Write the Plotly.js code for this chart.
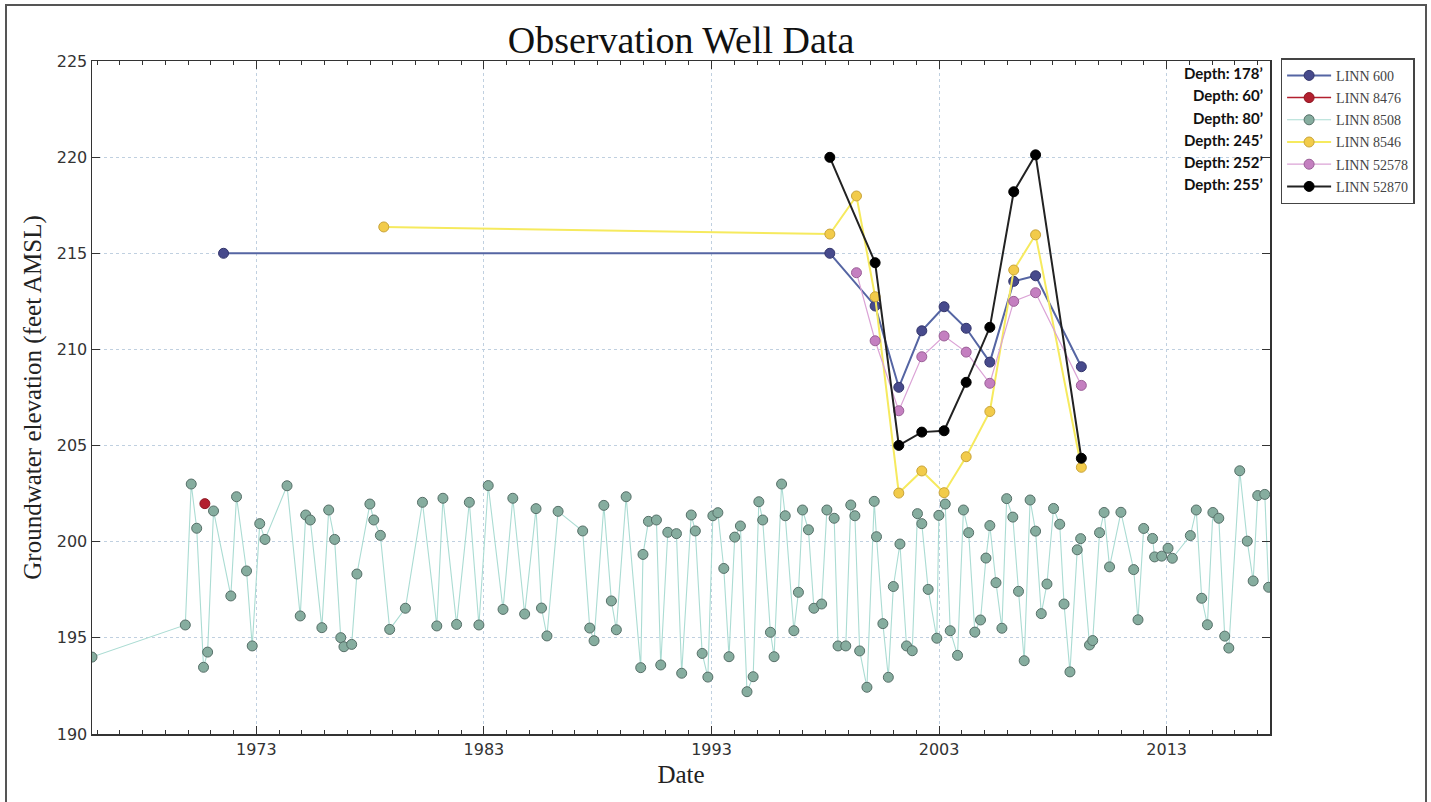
<!DOCTYPE html>
<html>
<head>
<meta charset="utf-8">
<script src="https://cdn.plot.ly/plotly-3.0.1.min.js"></script>
<style>
  html, body { margin: 0; padding: 0; background: #fff; }
  #wrap { position: relative; width: 1431px; height: 802px; overflow: hidden; }
  #chart { position: absolute; left: 0; top: 0; width: 1431px; height: 802px; }
  #frame { position: absolute; left: 5px; top: 4px; width: 1418px; height: 820px;
           border: 2px solid #555; pointer-events: none; z-index: 10; }
</style>
</head>
<body>
<div id="wrap"><div id="chart"></div><div id="frame"></div></div>
<script>
// ---- Data (decimal years, feet AMSL) ----
const linn600_x = [1971.56, 1998.20, 2000.19, 2001.23, 2002.24, 2003.22, 2004.19, 2005.23, 2006.28, 2007.24, 2009.25];
const linn600_y = [215.0, 215.0, 212.26, 208.03, 210.97, 212.22, 211.10, 209.34, 213.54, 213.83, 209.10];

const linn8476_x = [1970.74];
const linn8476_y = [201.98];

const linn8508_x = [1965.78, 1969.88, 1970.14, 1970.38, 1970.68, 1970.86, 1971.12, 1971.88, 1972.13, 1972.57,
  1972.82, 1973.15, 1973.38, 1974.35, 1974.93, 1975.17, 1975.37, 1975.88, 1976.18, 1976.44,
  1976.71, 1976.85, 1977.19, 1977.42, 1977.99, 1978.16, 1978.45, 1978.86, 1979.55, 1980.30,
  1980.93, 1981.20, 1981.80, 1982.36, 1982.78, 1983.19, 1983.84, 1984.27, 1984.79, 1985.29,
  1985.53, 1985.77, 1986.26, 1987.34, 1987.65, 1987.84, 1988.27, 1988.60, 1988.82, 1989.25,
  1989.89, 1989.99, 1990.23, 1990.58, 1990.77, 1991.08, 1991.46, 1991.69, 1992.11, 1992.29,
  1992.59, 1992.84, 1993.06, 1993.28, 1993.54, 1993.77, 1994.02, 1994.27, 1994.56, 1994.83,
  1995.08, 1995.25, 1995.59, 1995.75, 1996.08, 1996.24, 1996.62, 1996.82, 1997.00, 1997.26,
  1997.50, 1997.84, 1998.07, 1998.39, 1998.56, 1998.90, 1999.12, 1999.30, 1999.51, 1999.83,
  2000.15, 2000.25, 2000.53, 2000.77, 2000.99, 2001.28, 2001.57, 2001.82, 2002.05, 2002.24,
  2002.52, 2002.90, 2002.99, 2003.27, 2003.49, 2003.81, 2004.07, 2004.30, 2004.57, 2004.82,
  2005.06, 2005.23, 2005.50, 2005.76, 2005.97, 2006.24, 2006.49, 2006.74, 2007.00, 2007.24,
  2007.49, 2007.74, 2008.03, 2008.30, 2008.49, 2008.75, 2009.07, 2009.22, 2009.61, 2009.75,
  2010.05, 2010.25, 2010.49, 2010.99, 2011.55, 2011.74, 2011.99, 2012.38, 2012.47, 2012.78,
  2013.06, 2013.25, 2014.04, 2014.30, 2014.54, 2014.79, 2015.03, 2015.29, 2015.55, 2015.73,
  2016.21, 2016.54, 2016.80, 2017.00, 2017.31, 2017.48];
const linn8508_y = [194.0, 195.67, 203.0, 200.70, 193.47, 194.26, 201.6, 197.18, 202.34, 198.48,
  194.58, 200.94, 200.12, 202.91, 196.14, 201.39, 201.13, 195.53, 201.65, 200.12,
  195.01, 194.54, 194.66, 198.32, 201.96, 201.13, 200.33, 195.44, 196.54, 202.05,
  195.62, 202.26, 195.70, 202.05, 195.67, 202.92, 196.48, 202.26, 196.24, 201.72,
  196.55, 195.10, 201.58, 200.56, 195.51, 194.85, 201.89, 196.92, 195.42, 202.34,
  193.45, 199.34, 201.06, 201.13, 193.59, 200.49, 200.42, 193.16, 201.39, 200.56,
  194.19, 192.96, 201.35, 201.51, 198.61, 194.02, 200.24, 200.82, 192.20, 192.98,
  202.08, 201.13, 195.29, 194.02, 203.0, 201.35, 195.37, 197.37, 201.65, 200.62,
  196.54, 196.76, 201.65, 201.22, 194.58, 194.58, 201.91, 201.35, 194.32, 192.43,
  202.10, 200.26, 195.74, 192.95, 197.67, 199.88, 194.58, 194.33, 201.46, 200.94,
  197.52, 194.98, 201.37, 201.96, 195.37, 194.09, 201.65, 200.47, 195.30, 195.93,
  199.15, 200.84, 197.87, 195.50, 202.24, 201.28, 197.42, 193.81, 202.17, 200.55,
  196.26, 197.80, 201.73, 200.91, 196.76, 193.23, 199.58, 200.16, 194.63, 194.86,
  200.47, 201.52, 198.69, 201.53, 198.55, 195.94, 200.69, 200.17, 199.21, 199.25,
  199.66, 199.14, 200.32, 201.65, 197.06, 195.68, 201.52, 201.22, 195.09, 194.47,
  203.69, 200.03, 197.96, 202.40, 202.46, 197.63];

const linn8546_x = [1978.60, 1998.20, 1999.37, 2000.19, 2001.23, 2002.24, 2003.22, 2004.19, 2005.23, 2006.28, 2007.24, 2009.25];
const linn8546_y = [216.37, 216.0, 217.98, 212.74, 202.53, 203.68, 202.55, 204.42, 206.77, 214.13, 215.96, 203.87];

const linn52578_x = [1999.37, 2000.19, 2001.23, 2002.24, 2003.22, 2004.19, 2005.23, 2006.28, 2007.24, 2009.25];
const linn52578_y = [213.99, 210.45, 206.81, 209.62, 210.70, 209.86, 208.24, 212.50, 212.95, 208.13];

const linn52870_x = [1998.20, 2000.19, 2001.23, 2002.24, 2003.22, 2004.19, 2005.23, 2006.28, 2007.24, 2009.25];
const linn52870_y = [219.99, 214.51, 205.01, 205.70, 205.77, 208.29, 211.15, 218.20, 220.12, 204.34];

const seriesNames = ["LINN 600", "LINN 8476", "LINN 8508", "LINN 8546", "LINN 52578", "LINN 52870"];
const depthLabels = ["Depth: 178\u2019", "Depth: 60\u2019", "Depth: 80\u2019", "Depth: 245\u2019", "Depth: 252\u2019", "Depth: 255\u2019"];

const xTicks = [1973, 1983, 1993, 2003, 2013];

// ---- Traces ----
function tr(name, x, y, lineColor, lineWidth, mFill, mEdge, idx) {
  return {
    type: "scatter", mode: "lines+markers", name: name, x: x, y: y,
    legendgroup: "g" + idx,
    line: { color: lineColor, width: lineWidth },
    marker: { size: 10, color: mFill, line: { color: mEdge, width: 1 } },
    hoverinfo: "x+y+name"
  };
}

const traces = [
  tr(seriesNames[0], linn600_x, linn600_y, "#5565a3", 2, "#474a8c", "#33356b", 0),
  tr(seriesNames[1], linn8476_x, linn8476_y, "#b3202f", 1.5, "#b3202f", "#8e1622", 1),
  tr(seriesNames[2], linn8508_x, linn8508_y, "#abdcd3", 1.1, "#86ad9f", "#566f68", 2),
  tr(seriesNames[3], linn8546_x, linn8546_y, "#f6ea5e", 2, "#f2cb4a", "#c9a43a", 3),
  tr(seriesNames[4], linn52578_x, linn52578_y, "#dba3d6", 1.2, "#c47fc0", "#9a5f97", 4),
  tr(seriesNames[5], linn52870_x, linn52870_y, "#222222", 2, "#000000", "#000000", 5)
];

// ---- Depth annotations, aligned with legend rows ----
const depthY = [0.982, 0.949, 0.916, 0.883, 0.850, 0.817];
const annotations = depthLabels.map((t, i) => ({
  xref: "paper", yref: "paper", x: 0.9955, y: depthY[i],
  xanchor: "right", yanchor: "middle", showarrow: false, text: "<b>" + t + "</b>",
  font: { family: "Lato, 'Noto Sans', sans-serif", size: 15, color: "#111" }
}));

const layout = {
  width: 1431, height: 802,
  margin: { l: 92, r: 161, t: 61, b: 68 },
  paper_bgcolor: "#ffffff", plot_bgcolor: "#ffffff",
  showlegend: true,
  title: {
    text: "Observation Well Data",
    font: { family: "Liberation Serif, 'Times New Roman', serif", size: 38, color: "#111" },
    x: 0.5, xref: "paper", xanchor: "center",
    y: 0.951, yref: "container", yanchor: "middle"
  },
  xaxis: {
    range: [1965.78, 2017.54],
    tickmode: "array", tickvals: xTicks, ticktext: xTicks.map(String),
    ticks: "inside", ticklen: 8, tickwidth: 1, tickcolor: "#333",
    showline: true, linecolor: "#333", linewidth: 1.5, mirror: "allticks",
    showgrid: true, gridcolor: "#c0d0e0", griddash: "dot", gridwidth: 1,
    zeroline: false,
    minor: { dtick: 1, tick0: 1973, ticks: "inside", ticklen: 4, tickcolor: "#333", showgrid: false },
    tickfont: { family: "DejaVu Sans, sans-serif", size: 16, color: "#333" },
    title: { text: "Date", standoff: 8,
      font: { family: "Liberation Serif, 'Times New Roman', serif", size: 25, color: "#222" } }
  },
  yaxis: {
    range: [190, 225], dtick: 5, tick0: 190,
    ticks: "inside", ticklen: 8, tickwidth: 1, tickcolor: "#333",
    showline: true, linecolor: "#333", linewidth: 1.5, mirror: "allticks",
    showgrid: true, gridcolor: "#c0d0e0", griddash: "dot", gridwidth: 1,
    zeroline: false,
    tickfont: { family: "DejaVu Sans, sans-serif", size: 16, color: "#333" },
    title: { text: "Groundwater elevation (feet AMSL)", standoff: 8,
      font: { family: "Liberation Serif, 'Times New Roman', serif", size: 25, color: "#222" } }
  },
  legend: {
    x: 1.009, y: 1.004, xanchor: "left", yanchor: "top",
    bgcolor: "#ffffff", bordercolor: "#444", borderwidth: 1.5,
    font: { family: "Liberation Serif, 'Times New Roman', serif", size: 14, color: "#444" },
    tracegroupgap: 1, itemwidth: 44
  },
  annotations: annotations
};

Plotly.newPlot("chart", traces, layout, { displayModeBar: false, staticPlot: true });
</script>
</body>
</html>
